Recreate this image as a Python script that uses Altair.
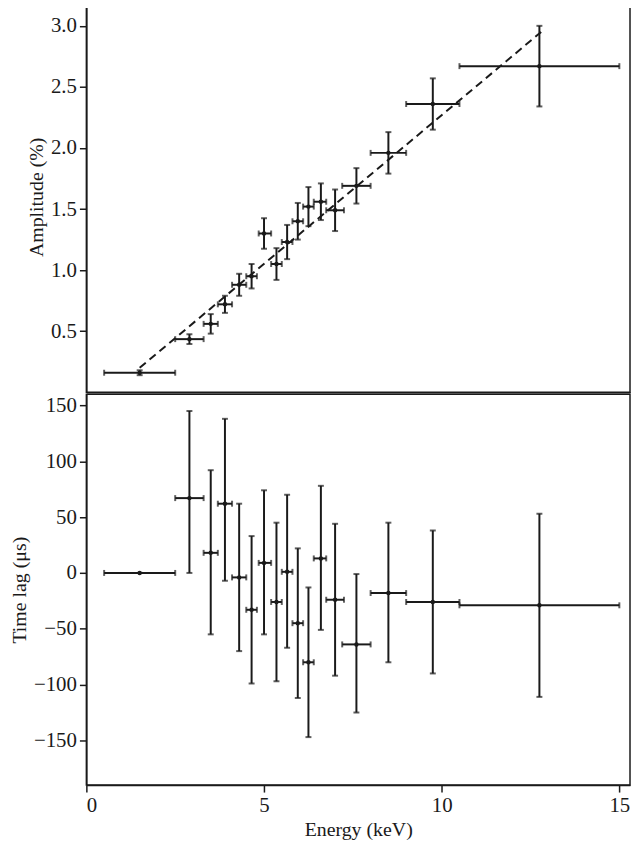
import pandas as pd
import altair as alt

# Energy bins (keV)
energy = [1.5, 2.9, 3.5, 3.9, 4.3, 4.65, 5.0, 5.35, 5.65, 5.95, 6.25, 6.6, 7.0, 7.6, 8.5, 9.75, 12.75]
e_lo = [0.5, 2.5, 3.3, 3.7, 4.1, 4.5, 4.85, 5.2, 5.5, 5.8, 6.1, 6.4, 6.75, 7.2, 8.0, 9.0, 10.5]
e_hi = [2.5, 3.3, 3.7, 4.1, 4.5, 4.8, 5.2, 5.5, 5.8, 6.1, 6.4, 6.75, 7.25, 8.0, 9.0, 10.5, 15.0]

# Amplitude (%) and 1-sigma errors
amp = [0.16, 0.435, 0.56, 0.72, 0.88, 0.95, 1.30, 1.05, 1.23, 1.40, 1.52, 1.56, 1.49, 1.69, 1.96, 2.36, 2.67]
amp_err = [0.02, 0.04, 0.08, 0.07, 0.09, 0.1, 0.125, 0.13, 0.14, 0.15, 0.16, 0.15, 0.17, 0.145, 0.17, 0.21, 0.33]

# Time lag (us) with lower / upper error bounds
lag = [0, 67, 18, 62, -4, -33, 9, -26, 1, -45, -80, 13, -24, -64, -18, -26, -29]
lag_lo = [0, 0, -55, -7, -70, -99, -55, -97, -67, -112, -147, -51, -92, -125, -80, -90, -111]
lag_hi = [0, 145, 92, 138, 62, 33, 74, 45, 70, 22, -13, 78, 44, -1, 45, 38, 53]

# Linear model line (dashed)
fit_x = [1.5, 12.8]
fit_y = [0.2, 2.95]

df = pd.DataFrame({"energy": energy, "e_lo": e_lo, "e_hi": e_hi,
                   "amp": amp, "lag": lag, "lag_lo": lag_lo, "lag_hi": lag_hi})
df["amp_lo"] = [a - e for a, e in zip(amp, amp_err)]
df["amp_hi"] = [a + e for a, e in zip(amp, amp_err)]
fit = pd.DataFrame({"energy": fit_x, "amp": fit_y})

W, H = 548, 394
XDOM = [0, 15.3]
BLACK = "#1a1a1a"
FONT = "Liberation Serif"

def panel(ycol, lo, hi, ydom, yticks, ytitle, show_x):
    xax = alt.Axis(values=[0, 5, 10, 15], title="Energy (keV)" if show_x else None,
                   labels=show_x, ticks=show_x, grid=False)
    x = alt.X("energy:Q", scale=alt.Scale(domain=XDOM, nice=False), axis=xax)
    y = alt.Y(f"{ycol}:Q", scale=alt.Scale(domain=ydom, nice=False, zero=False),
              axis=alt.Axis(values=yticks, title=ytitle, grid=False,
                            format=".1f" if ycol == "amp" else "d"))
    base = alt.Chart(df)
    hbar = base.mark_rule(color=BLACK, strokeWidth=2).encode(x=alt.X("e_lo:Q", scale=alt.Scale(domain=XDOM, nice=False), axis=xax), x2="e_hi:Q", y=y)
    vbar = base.mark_rule(color=BLACK, strokeWidth=2).encode(x=x, y=alt.Y(f"{lo}:Q"), y2=f"{hi}:Q")
    capx1 = base.mark_tick(color=BLACK, orient="vertical", size=6, thickness=2).encode(x="e_lo:Q", y=y)
    capx2 = base.mark_tick(color=BLACK, orient="vertical", size=6, thickness=2).encode(x="e_hi:Q", y=y)
    capy1 = base.mark_tick(color=BLACK, orient="horizontal", size=6, thickness=2).encode(x=x, y=f"{lo}:Q")
    capy2 = base.mark_tick(color=BLACK, orient="horizontal", size=6, thickness=2).encode(x=x, y=f"{hi}:Q")
    pts = base.mark_circle(color=BLACK, size=20, opacity=1).encode(x=x, y=y)
    layers = [hbar, vbar, capx1, capx2, capy1, capy2, pts]
    if ycol == "amp":
        line = alt.Chart(fit).mark_line(color=BLACK, strokeWidth=2, strokeDash=[8, 5]).encode(
            x=alt.X("energy:Q"), y=alt.Y("amp:Q"))
        layers.insert(0, line)
    return alt.layer(*layers).properties(width=W, height=H)

top = panel("amp", "amp_lo", "amp_hi", [0, 3.2], [0.5, 1.0, 1.5, 2.0, 2.5, 3.0], "Amplitude (%)", False)
bottom = panel("lag", "lag_lo", "lag_hi", [-190, 160], [-150, -100, -50, 0, 50, 100, 150], "Time lag (μs)", True)

chart = (alt.vconcat(top, bottom, spacing=0)
         .configure(font=FONT)
         .configure_view(stroke=BLACK, strokeWidth=1.5)
         .configure_axis(labelFont=FONT, titleFont=FONT,
                         labelFontSize=21, titleFontSize=20, labelColor=BLACK, titleColor=BLACK,
                         titleFontWeight="normal", domainColor=BLACK, tickColor=BLACK,
                         tickWidth=1.5, tickSize=7, domainWidth=1.5, labelPadding=3, titlePadding=4)
         .properties(padding={"left": 0, "top": -11, "right": 0, "bottom": 0}))

chart.save("out.html", embed_options={"renderer": "svg", "actions": False})
